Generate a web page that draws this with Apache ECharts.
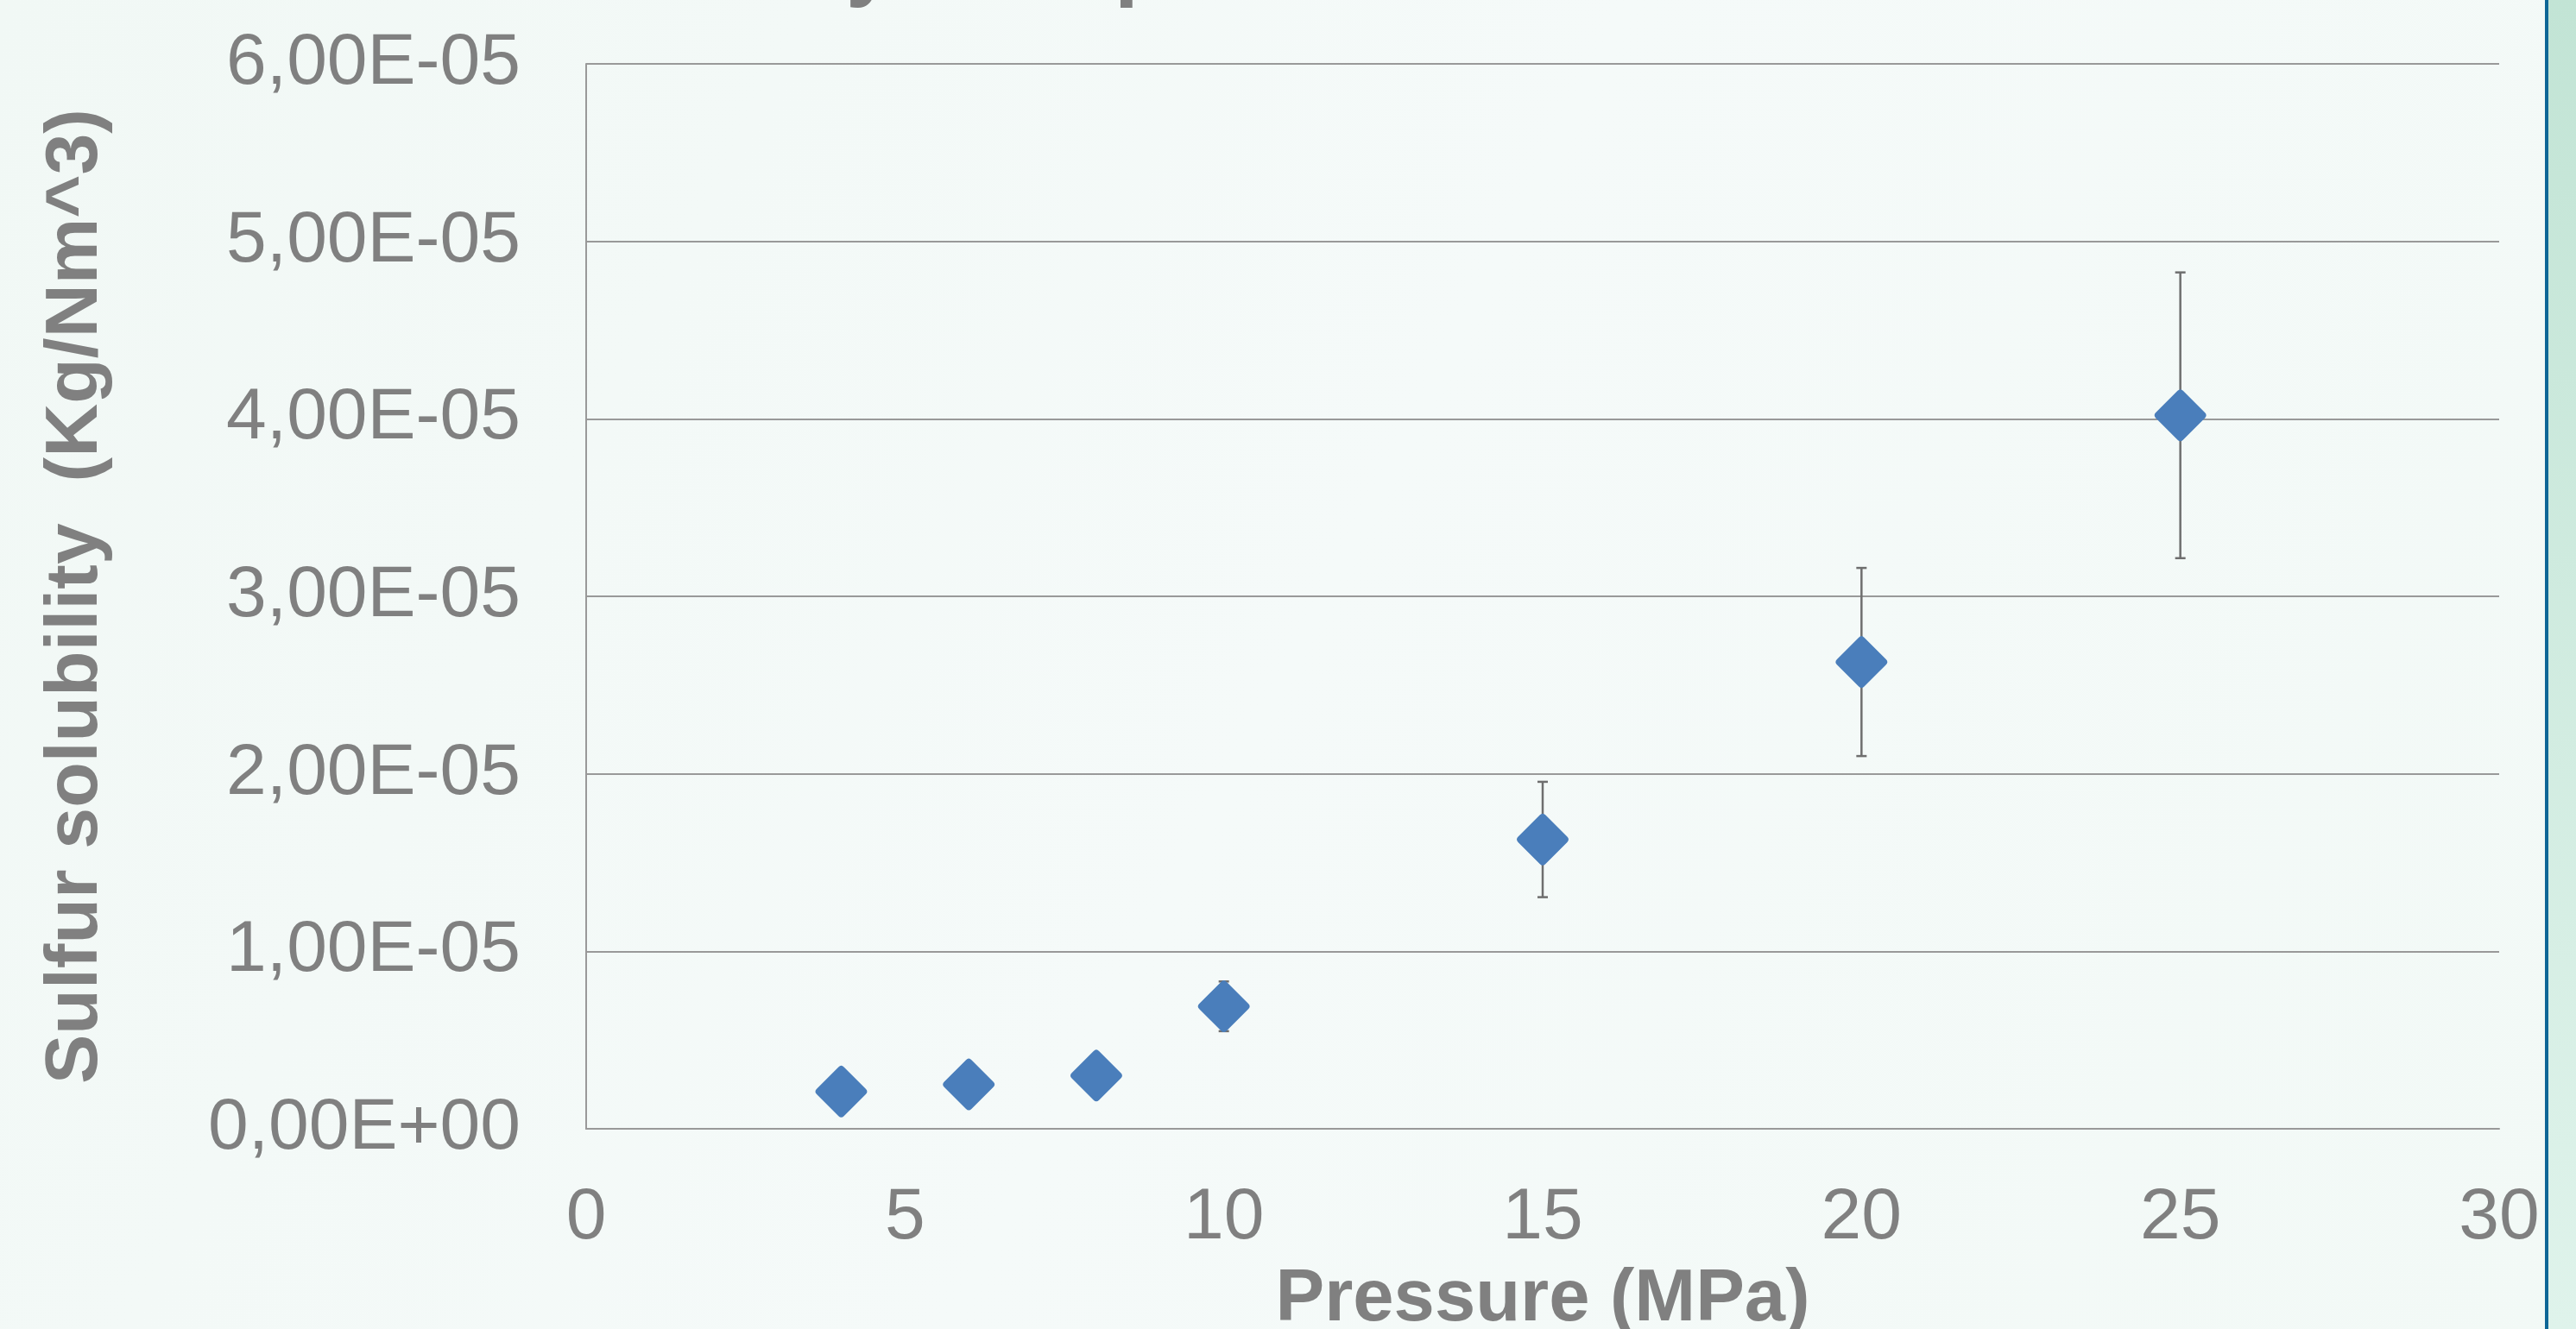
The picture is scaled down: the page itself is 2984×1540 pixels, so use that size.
<!DOCTYPE html>
<html>
<head>
<meta charset="utf-8">
<style>
  html, body { margin: 0; padding: 0; }
  #chart { width: 2984px; height: 1540px; }
</style>
<script src="https://cdn.jsdelivr.net/npm/echarts@6/dist/echarts.min.js"></script>
</head>
<body>
<div id="chart"></div>
<script>
// pressure (MPa) and measured sulfur solubility (Kg/Nm^3)
var pressure = [4, 6, 8, 10, 15, 20, 25]
var solubility = [2.1e-6, 2.5e-6, 3.0e-6, 6.9e-6, 1.63e-5, 2.63e-5, 4.02e-5]
var errorBar = [0, 0, 0, 1.4e-6, 3.25e-6, 5.3e-6, 8.05e-6]

var xTicks = [0, 5, 10, 15, 20, 25, 30]
var yMax = 6e-5
var yStep = 1e-5

var grey = '#808080'
var font = 'Liberation Sans, Arial, sans-serif'

function sci(v) {
  // 6e-5 -> "6,00E-05"
  var s = Number(v).toExponential(2).split('e')
  var exp = parseInt(s[1], 10)
  var sign = exp < 0 ? '-' : '+'
  var e = Math.abs(exp)
  return s[0].replace('.', ',') + 'E' + sign + (e < 10 ? '0' + e : e)
}

var points = pressure.map(function (p, i) { return [p, solubility[i]] })
var bars = pressure.map(function (p, i) {
  return [p, solubility[i] - errorBar[i], solubility[i] + errorBar[i]]
})

var chart = echarts.init(document.getElementById('chart'))
chart.setOption({
  animation: false,
  backgroundColor: new echarts.graphic.LinearGradient(0, 0, 1, 1, [
    { offset: 0, color: '#f1f8f5' },
    { offset: 0.5, color: '#f5faf9' },
    { offset: 1, color: '#f2f9f6' }
  ]),
  // chart title sits above the slide crop, only descenders show
  title: {
    text: 'Sulfur solubility with pressure',
    left: 280,
    top: -90,
    padding: 0,
    textStyle: { color: grey, fontFamily: font, fontWeight: 'bold', fontSize: 100 }
  },
  graphic: [
    {
      type: 'rect',
      shape: { x: 2952, y: 0, width: 32, height: 1540 },
      style: {
        fill: new echarts.graphic.LinearGradient(0, 0, 0, 1, [
          { offset: 0, color: '#c2e4d5' },
          { offset: 1, color: '#dff3eb' }
        ])
      }
    },
    {
      type: 'rect',
      shape: { x: 2948, y: 0, width: 4, height: 1540 },
      style: { fill: '#0e6696' }
    }
  ],
  grid: { left: 679, right: 89, top: 74, bottom: 232, outerBoundsMode: 'none' },
  xAxis: {
    type: 'value',
    min: xTicks[0],
    max: xTicks[xTicks.length - 1],
    interval: 5,
    name: 'Pressure (MPa)',
    nameLocation: 'middle',
    nameGap: 156,
    nameTextStyle: { color: grey, fontFamily: font, fontWeight: 'bold', fontSize: 85 },
    axisLine: { show: true, lineStyle: { color: '#999999', width: 2 } },
    axisTick: { show: false },
    splitLine: { show: false },
    axisLabel: { color: grey, fontFamily: font, fontSize: 84, margin: 62 }
  },
  yAxis: {
    type: 'value',
    min: 0,
    max: yMax,
    interval: yStep,
    name: 'Sulfur solubility  (Kg/Nm^3)',
    nameLocation: 'middle',
    nameRotate: 90,
    nameGap: 548,
    nameTextStyle: { color: grey, fontFamily: font, fontWeight: 'bold', fontSize: 86 },
    axisLine: { show: true, lineStyle: { color: '#999999', width: 2 } },
    axisTick: { show: false },
    splitLine: { show: true, lineStyle: { color: '#999999', width: 2 } },
    axisLabel: { color: grey, fontFamily: font, fontSize: 84, margin: 76, formatter: sci }
  },
  series: [
    {
      type: 'custom',
      z: 2,
      renderItem: function (params, api) {
        var x = api.value(0)
        var lo = api.coord([x, api.value(1)])
        var hi = api.coord([x, api.value(2)])
        var cap = 6
        var st = { stroke: '#6e6e6e', lineWidth: 2.5 }
        return {
          type: 'group',
          children: [
            { type: 'line', shape: { x1: lo[0], y1: lo[1], x2: hi[0], y2: hi[1] }, style: st },
            { type: 'line', shape: { x1: lo[0] - cap, y1: lo[1], x2: lo[0] + cap, y2: lo[1] }, style: st },
            { type: 'line', shape: { x1: hi[0] - cap, y1: hi[1], x2: hi[0] + cap, y2: hi[1] }, style: st }
          ]
        }
      },
      encode: { x: 0, y: [1, 2] },
      data: bars
    },
    {
      type: 'scatter',
      z: 3,
      symbol: 'path://M55 5 L95 45 Q100 50 95 55 L55 95 Q50 100 45 95 L5 55 Q0 50 5 45 L45 5 Q50 0 55 5 Z',
      symbolSize: 60,
      itemStyle: { color: '#4a7ebb', opacity: 1 },
      data: points
    }
  ]
})
</script>
</body>
</html>
